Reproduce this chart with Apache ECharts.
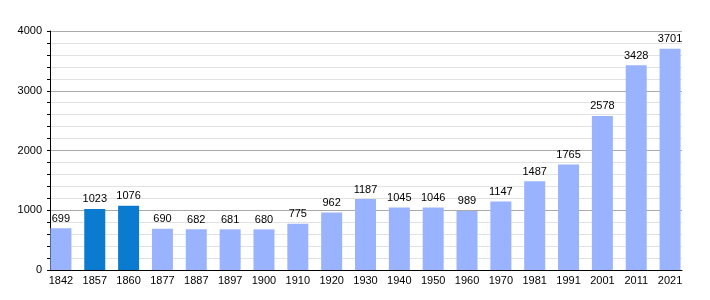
<!DOCTYPE html>
<html><head><meta charset="utf-8">
<script src="https://cdn.jsdelivr.net/npm/echarts@6/dist/echarts.min.js"></script>
<style>html,body{margin:0;padding:0;background:#fff}#c{width:710px;height:300px}</style>
</head><body><div id="c"></div>
<script>
var years = ['1842','1857','1860','1877','1887','1897','1900','1910','1920','1930','1940','1950','1960','1970','1981','1991','2001','2011','2021'];
var population = [699,1023,1076,690,682,681,680,775,962,1187,1045,1046,989,1147,1487,1765,2578,3428,3701];
var highlighted = ['1857','1860'];
var yTicks = [0,1000,2000,3000,4000];

var lightColor = '#99b3ff';
var darkColor = '#0a7bcf';
var font = 'Liberation Sans, Arial, sans-serif';

var chart = echarts.init(document.getElementById('c'), null, {renderer:'canvas'});
chart.setOption({
  animation:false,
  grid:[
    {left:50, right:28, top:31, bottom:30},
    {left:44, right:23, top:31, bottom:30}
  ],
  xAxis:[
    {gridIndex:0, type:'value', min:0, max:1, show:true,
     axisLine:{show:true, lineStyle:{color:'#000', width:1}},
     axisTick:{show:false}, axisLabel:{show:false}, splitLine:{show:false}},
    {gridIndex:1, type:'category', data:years,
     axisLine:{show:false}, axisTick:{show:false},
     axisLabel:{color:'#000', fontSize:11, fontFamily:font, margin:5}}
  ],
  yAxis:[
    {gridIndex:0, type:'value', min:yTicks[0], max:yTicks[yTicks.length-1], interval:1000,
     axisLine:{show:true, lineStyle:{color:'#000', width:1}},
     axisTick:{show:true, length:3, lineStyle:{color:'#000'}},
     minorTick:{show:true, splitNumber:5, length:3, lineStyle:{color:'#000'}},
     splitLine:{show:true, lineStyle:{color:'#aaaaaa', width:1}},
     minorSplitLine:{show:true, lineStyle:{color:'#e2e2e2', width:1}},
     axisLabel:{color:'#000', fontSize:11, fontFamily:font, margin:8,
       formatter:function(v){return String(v);}}},
    {gridIndex:1, type:'value', min:yTicks[0], max:yTicks[yTicks.length-1], show:false}
  ],
  series:[{
    type:'bar', xAxisIndex:1, yAxisIndex:1, barWidth:21,
    data: population.map(function(v,i){
      return {value:v, itemStyle:{color: highlighted.indexOf(years[i])>=0 ? darkColor : lightColor}};
    }),
    label:{show:true, position:'top', distance:4, color:'#000', fontSize:11, fontFamily:font}
  }]
});
</script></body></html>
